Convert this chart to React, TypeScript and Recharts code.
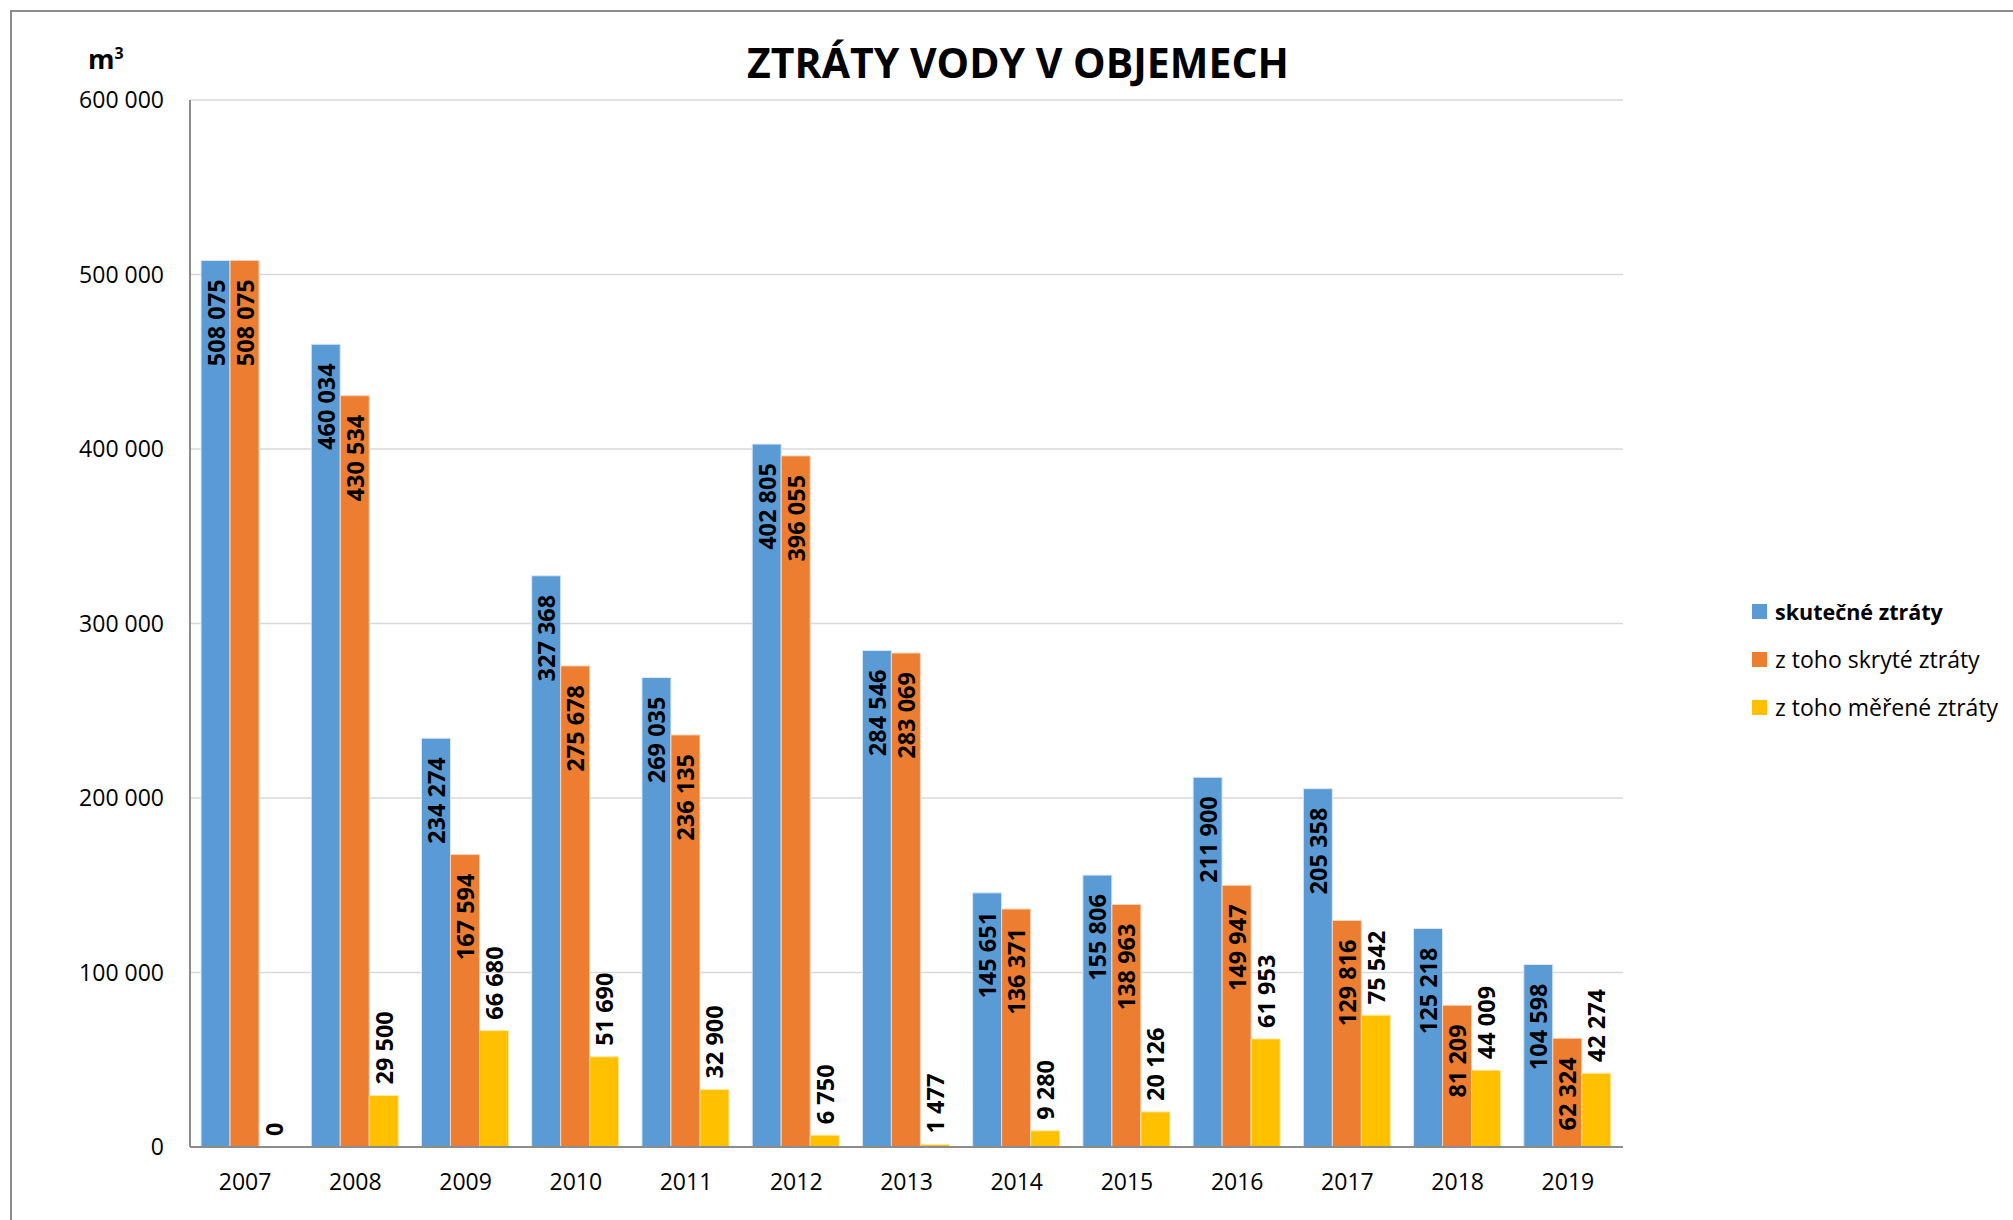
import { BarChart, Bar, XAxis, YAxis, CartesianGrid, LabelList } from 'recharts'

const years = ['2007', '2008', '2009', '2010', '2011', '2012', '2013', '2014', '2015', '2016', '2017', '2018', '2019']
const skutecne = [508075, 460034, 234274, 327368, 269035, 402805, 284546, 145651, 155806, 211900, 205358, 125218, 104598]
const skryte = [508075, 430534, 167594, 275678, 236135, 396055, 283069, 136371, 138963, 149947, 129816, 81209, 62324]
const merene = [0, 29500, 66680, 51690, 32900, 6750, 1477, 9280, 20126, 61953, 75542, 44009, 42274]
const yTicks = [0, 100000, 200000, 300000, 400000, 500000, 600000]

const seriesNames = ['skutečné ztráty', 'z toho skryté ztráty', 'z toho měřené ztráty']
const colors = ['#5B9BD5', '#ED7D31', '#FFC000']

const FONT = '"Open Sans", sans-serif'

const data = years.map((y, i) => ({
    year: y,
    skutecne: skutecne[i],
    skryte: skryte[i],
    merene: merene[i],
}))

const fmt = (v: number) => String(v).replace(/\B(?=(\d{3})+(?!\d))/g, ' ')

// value label inside the bar, rotated, hanging from the top
const InsideLabel = (props: any) => {
    const { x, y, width, value } = props
    const cx = x + width / 2
    const ty = y + 19
    return (
        <text
            x={cx}
            y={ty}
            transform={`rotate(-90, ${cx}, ${ty})`}
            textAnchor="end"
            dominantBaseline="central"
            fontFamily={FONT}
            fontSize={23.5}
            fontWeight={700}
            fill="#000"
        >
            {fmt(value)}
        </text>
    )
}

// value label standing above the bar
const AboveLabel = (props: any) => {
    const { x, y, width, value } = props
    const cx = x + width / 2
    const ty = y - 11
    return (
        <text
            x={cx}
            y={ty}
            transform={`rotate(-90, ${cx}, ${ty})`}
            textAnchor="start"
            dominantBaseline="central"
            fontFamily={FONT}
            fontSize={23.5}
            fontWeight={700}
            fill="#000"
        >
            {fmt(value)}
        </text>
    )
}

export default function App() {
    return (
        <div style={{ position: 'absolute', left: 0, top: 0, width: 2013, height: 1220, background: '#fff', overflow: 'hidden' }}>
            <div
                style={{
                    position: 'absolute',
                    left: 10,
                    top: 10,
                    width: 2100,
                    height: 1300,
                    borderLeft: '2px solid #8c8c8c',
                    borderTop: '2px solid #8c8c8c',
                }}
            />
            <div
                style={{
                    position: 'absolute',
                    left: 0,
                    width: 2036,
                    top: 34,
                    textAlign: 'center',
                    fontFamily: FONT,
                    fontWeight: 700,
                    fontSize: 41,
                    lineHeight: '56px',
                    color: '#000',
                }}
            >
                ZTRÁTY VODY V OBJEMECH
            </div>
            <div
                style={{
                    position: 'absolute',
                    left: 88,
                    top: 33,
                    fontFamily: FONT,
                    fontWeight: 700,
                    fontSize: 27,
                    lineHeight: '40px',
                    color: '#000',
                }}
            >
                m<sup style={{ fontSize: 16 }}>3</sup>
            </div>
            <div style={{ position: 'absolute', left: 1752, top: 587, fontFamily: FONT, color: '#000' }}>
                {seriesNames.map((name, i) => (
                    <div key={name} style={{ display: 'flex', alignItems: 'center', height: 48 }}>
                        <span style={{ width: 15, height: 15, background: colors[i], marginRight: 8, display: 'inline-block' }} />
                        <span style={{ fontWeight: i === 0 ? 700 : 400, fontSize: i === 0 ? 21.5 : 23, whiteSpace: 'nowrap' }}>{name}</span>
                    </div>
                ))}
            </div>
            <div style={{ position: 'absolute', left: 0, top: 0 }}>
                <BarChart
                    width={2013}
                    height={1220}
                    data={data}
                    margin={{ top: 100, right: 390, bottom: 23, left: 0 }}
                    barCategoryGap="10%"
                    barGap={0}
                >
                    <CartesianGrid vertical={false} stroke="#d9d9d9" strokeWidth={1.5} />
                    <XAxis
                        dataKey="year"
                        height={50}
                        tickLine={false}
                        axisLine={{ stroke: '#8c8c8c', strokeWidth: 2 }}
                        tickMargin={21}
                        tick={{ fill: '#000', fontFamily: FONT, fontSize: 23 }}
                    />
                    <YAxis
                        width={190}
                        domain={[0, 600000]}
                        ticks={yTicks}
                        interval={0}
                        tickLine={false}
                        axisLine={{ stroke: '#8c8c8c', strokeWidth: 2 }}
                        tickMargin={20}
                        tickFormatter={fmt}
                        tick={{ fill: '#000', fontFamily: FONT, fontSize: 23 }}
                    />
                    <Bar dataKey="skutecne" name={seriesNames[0]} fill={colors[0]} stroke="#dbe8f5" strokeWidth={1} isAnimationActive={false}>
                        <LabelList dataKey="skutecne" content={<InsideLabel />} />
                    </Bar>
                    <Bar dataKey="skryte" name={seriesNames[1]} fill={colors[1]} stroke="#f8d3bb" strokeWidth={1} isAnimationActive={false}>
                        <LabelList dataKey="skryte" content={<InsideLabel />} />
                    </Bar>
                    <Bar
                        dataKey="merene"
                        name={seriesNames[2]}
                        fill={colors[2]}
                        stroke="#ffe7a0"
                        strokeWidth={1}
                        minPointSize={(v: number) => (v === 0 ? 0.01 : 0)}
                        isAnimationActive={false}
                    >
                        <LabelList dataKey="merene" content={<AboveLabel />} />
                    </Bar>
                </BarChart>
            </div>
        </div>
    )
}
